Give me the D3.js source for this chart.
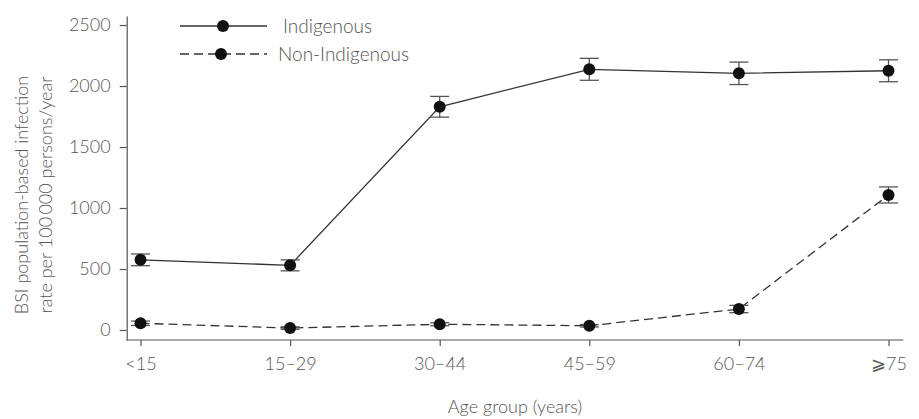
<!DOCTYPE html>
<html>
<head>
<meta charset="utf-8">
<script src="https://cdn.jsdelivr.net/npm/d3@7"></script>
<style>
  html, body { margin: 0; padding: 0; background: #fff; }
  svg { display: block; }
  text { font-family: Lato, "Open Sans", sans-serif; font-weight: 300; fill: #555; }
</style>
</head>
<body>
<svg id="chart" width="919" height="419"></svg>
<script>
const categories = ["<15", "15\u201329", "30\u201344", "45\u201359", "60\u201374", "\u2A7E75"];
const indigenous = [575, 530, 1830, 2137, 2104, 2125];
const indigenousErr = [48, 45, 85, 90, 92, 90];
const nonIndigenous = [55, 16, 47, 35, 172, 1107];
const nonIndigenousErr = [18, 10, 12, 10, 30, 66];
const yTicks = [0, 500, 1000, 1500, 2000, 2500];
const seriesNames = ["Indigenous", "Non-Indigenous"];

const svg = d3.select("#chart");
const axisLeftX = 126.7, axisRightX = 903.3, axisBottomY = 340, axisTopY = 16;
const fs = 18;

const x = d3.scalePoint().domain(categories).range([140.5, 888.5]);
const y = d3.scaleLinear().domain([-82, 2574]).range([axisBottomY, axisTopY]);

const ink = "#333";
const axisInk = "#555";

// Y axis
const yAxis = svg.append("g")
  .attr("transform", `translate(${axisLeftX},0)`)
  .call(d3.axisLeft(y).tickValues(yTicks).tickFormat(d3.format("d"))
    .tickSize(7).tickPadding(9).tickSizeOuter(0));
yAxis.select(".domain").attr("stroke", axisInk).attr("stroke-width", 1.2);
yAxis.selectAll(".tick line").attr("stroke", axisInk).attr("stroke-width", 1.2);
yAxis.selectAll(".tick text").attr("font-size", fs).attr("fill", "#555")
  .attr("font-family", "Lato, sans-serif");

// X axis
const xAxis = svg.append("g")
  .attr("transform", `translate(0,${axisBottomY})`)
  .call(d3.axisBottom(x).tickSize(6).tickPadding(11).tickSizeOuter(0));
xAxis.select(".domain").attr("d", `M${axisLeftX},0H${axisRightX}`)
  .attr("stroke", axisInk).attr("stroke-width", 1.2);
xAxis.selectAll(".tick line").attr("stroke", axisInk).attr("stroke-width", 1.2);
xAxis.selectAll(".tick text").attr("font-size", fs).attr("fill", "#555")
  .attr("font-family", "Lato, 'DejaVu Sans', sans-serif");

// Axis titles
svg.append("text")
  .attr("x", (axisLeftX + axisRightX) / 2).attr("y", 413)
  .attr("text-anchor", "middle").attr("font-size", fs)
  .text("Age group (years)");

const yt = svg.append("text")
  .attr("transform", "translate(28,195) rotate(-90)")
  .attr("text-anchor", "middle").attr("font-size", fs);
yt.append("tspan").attr("x", 0).attr("dy", 0).text("BSI population-based infection");
yt.append("tspan").attr("x", 0).attr("dy", 24).text("rate per 100\u2009000 persons/year");

// Series
const series = [
  { name: seriesNames[0], values: indigenous, err: indigenousErr, dash: null },
  { name: seriesNames[1], values: nonIndigenous, err: nonIndigenousErr, dash: "9,5" }
];

const line = d3.line().x((d, i) => x(categories[i])).y(d => y(d));
const capHalf = 9.5;

series.forEach(s => {
  const g = svg.append("g");
  g.append("path")
    .attr("d", line(s.values))
    .attr("fill", "none").attr("stroke", ink).attr("stroke-width", 1.3)
    .attr("stroke-dasharray", s.dash);
  const eb = g.selectAll(".eb").data(s.values).join("g");
  eb.append("line")
    .attr("x1", (d, i) => x(categories[i])).attr("x2", (d, i) => x(categories[i]))
    .attr("y1", (d, i) => y(d + s.err[i])).attr("y2", (d, i) => y(d - s.err[i]))
    .attr("stroke", axisInk).attr("stroke-width", 1.3);
  eb.append("line")
    .attr("x1", (d, i) => x(categories[i]) - capHalf).attr("x2", (d, i) => x(categories[i]) + capHalf)
    .attr("y1", (d, i) => y(d + s.err[i])).attr("y2", (d, i) => y(d + s.err[i]))
    .attr("stroke", axisInk).attr("stroke-width", 1.3);
  eb.append("line")
    .attr("x1", (d, i) => x(categories[i]) - capHalf).attr("x2", (d, i) => x(categories[i]) + capHalf)
    .attr("y1", (d, i) => y(d - s.err[i])).attr("y2", (d, i) => y(d - s.err[i]))
    .attr("stroke", axisInk).attr("stroke-width", 1.3);
  g.selectAll(".pt").data(s.values).join("circle")
    .attr("cx", (d, i) => x(categories[i])).attr("cy", d => y(d))
    .attr("r", 6).attr("fill", "#111");
});

// Legend
const legend = svg.append("g");
const legendRows = [
  { name: seriesNames[0], dash: null, y: 26, mx: 223, tx: 283 },
  { name: seriesNames[1], dash: "9,5", y: 54, mx: 221, tx: 278 }
];
legendRows.forEach(r => {
  legend.append("line")
    .attr("x1", 180).attr("x2", 267).attr("y1", r.y).attr("y2", r.y)
    .attr("stroke", ink).attr("stroke-width", 1.3).attr("stroke-dasharray", r.dash);
  legend.append("circle").attr("cx", r.mx).attr("cy", r.y).attr("r", 6).attr("fill", "#111");
  legend.append("text").attr("x", r.tx).attr("y", r.y).attr("dy", "0.35em")
    .attr("font-size", 19).text(r.name);
});
</script>
</body>
</html>
